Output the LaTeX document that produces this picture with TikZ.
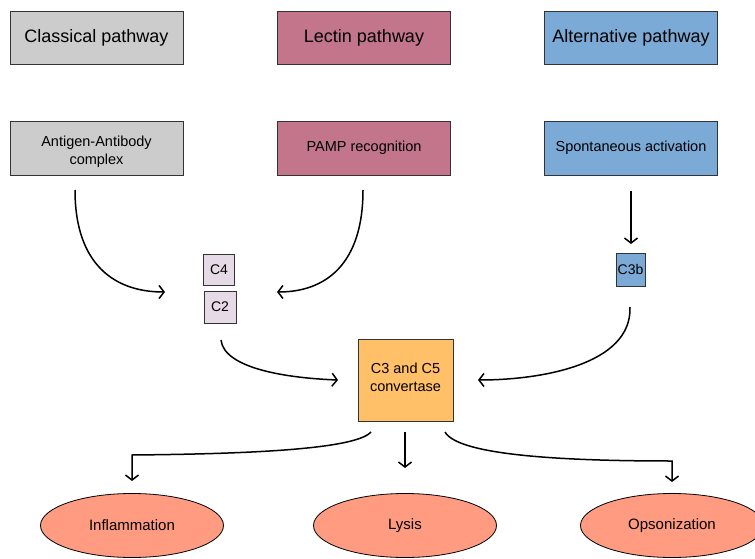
\documentclass[tikz,border=0pt]{standalone}
\usepackage{fontspec}
\setmainfont{Liberation Sans}
\usetikzlibrary{arrows.meta,shapes.geometric}
\definecolor{clgray}{HTML}{CCCCCC}
\definecolor{lectin}{HTML}{C2758B}
\definecolor{altblue}{HTML}{7BAAD6}
\definecolor{lav}{HTML}{E5DAE6}
\definecolor{conv}{HTML}{FFC068}
\definecolor{salmon}{HTML}{FF9B80}
\definecolor{edge}{HTML}{333333}
\tikzset{
  bigbox/.style={draw=edge,line width=0.8pt,minimum width=173pt,minimum height=53pt,inner sep=0pt,font=\fontsize{18}{21}\selectfont},
  midbox/.style={draw=edge,line width=0.8pt,minimum width=173pt,minimum height=54pt,inner sep=0pt,align=center,font=\fontsize{14.5}{18}\selectfont},
  midtext/.style={inner sep=0pt,align=center,font=\fontsize{14.5}{18}\selectfont},
  smallbox/.style={draw=edge,line width=0.8pt,minimum width=31pt,minimum height=31pt,inner sep=0pt,font=\fontsize{14}{16}\selectfont},
  outcome/.style={ellipse,draw=black,line width=0.8pt,fill=salmon,minimum width=183pt,minimum height=64pt,inner sep=0pt,font=\fontsize{15}{18}\selectfont},
  conn/.style={line width=1.5pt,-{Straight Barb[length=5pt,width=13pt,line width=1.5pt]}}
}
\begin{document}
\begin{tikzpicture}[x=1pt,y=-1pt]
\useasboundingbox (0,0) rectangle (755,559);
% top row
\node[bigbox,fill=clgray] (cp) at (96.5,38) {Classical pathway};
\node[bigbox,fill=lectin] (lp) at (364,38) {Lectin pathway};
\node[bigbox,fill=altblue] (ap) at (631,38) {Alternative pathway};
% second row
\node[midbox,fill=clgray] (ag) at (96.5,148) {};
\node[midtext] (agtext) at ([yshift=-4pt]ag.center) {Antigen-Antibody\\complex};
\node[midbox,fill=lectin] (pamp) at (364,148) {PAMP recognition};
\node[midbox,fill=altblue] (sp) at (631,148) {Spontaneous activation};
% small boxes
\node[smallbox,fill=lav] (c4) at (219,270) {C4};
\node[smallbox,fill=lav,minimum width=32pt,minimum height=32pt] (c2) at (220,307) {C2};
\node[smallbox,fill=altblue,minimum width=29pt,minimum height=33pt] (c3b) at (630.5,269.5) {C3b};
% convertase
\node[draw=edge,line width=0.8pt,fill=conv,minimum width=95pt,minimum height=82pt,inner sep=0pt] (cv) at (405.5,380) {};
\node[midtext] (cvtext) at ([yshift=3pt]cv.center) {C3 and C5\\convertase};
% outcomes
\node[outcome] (inf) at (132,525.5) {Inflammation};
\node[outcome] (lys) at (405,525.5) {Lysis};
\node[outcome] (ops) at (672,525.5) {Opsonization};
% connector end points
\coordinate (agS) at (75,190);
\coordinate (c4L) at (165,292);
\coordinate (pS) at (363,190);
\coordinate (c4R) at (277,292);
\coordinate (spS) at (631,191);
\coordinate (c3bT) at (631,244);
\coordinate (c3bS) at (630,307);
\coordinate (cvR) at (478,380);
\coordinate (c2S) at (221,340);
\coordinate (cvL) at (338,380);
\coordinate (cvB1) at (371,432);
\coordinate (infT) at (132,481);
\coordinate (cvB2) at (405,432);
\coordinate (lysT) at (405,468);
\coordinate (cvB3) at (445,432);
\coordinate (opsT) at (672,482);
% connectors
\draw[conn] (agS) .. controls (75,265) and (115,292) .. (c4L);
\draw[conn] (pS) .. controls (363,265) and (325,292) .. (c4R);
\draw[conn] (spS) -- (c3bT);
\draw[conn] (c3bS) .. controls (632,365) and (540,380) .. (cvR);
\draw[conn] (c2S) .. controls (224,368) and (285,378) .. (cvL);
\draw[conn] (cvB1) .. controls (355,450) and (240,454) .. (132,455) -- (infT);
\draw[conn] (cvB2) -- (lysT);
\draw[conn] (cvB3) .. controls (458,455) and (560,461) .. (672,461) -- (opsT);
\end{tikzpicture}
\end{document}
